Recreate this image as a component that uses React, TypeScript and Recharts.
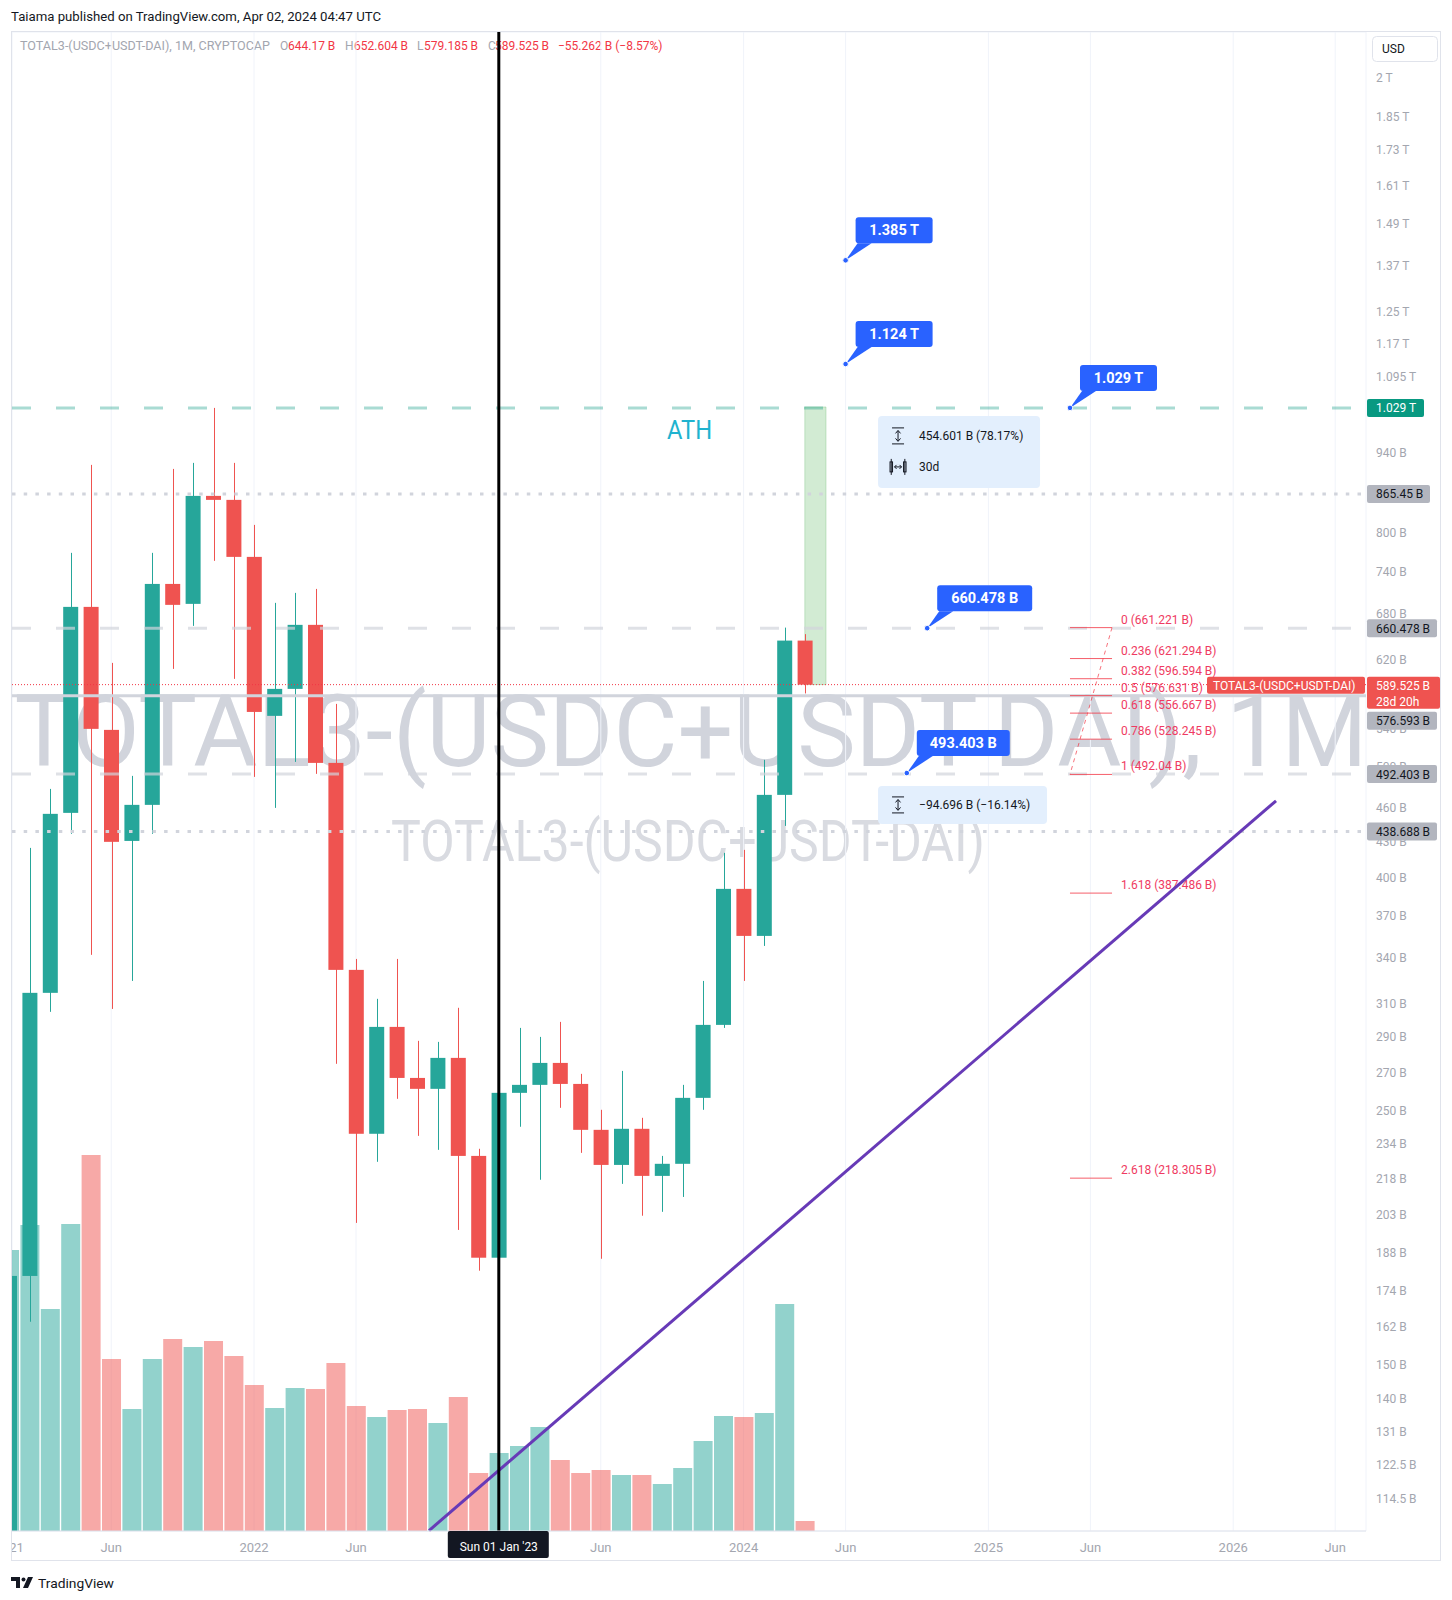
import React from "react";
import {
  ComposedChart,
  Bar,
  Cell,
  XAxis,
  YAxis,
  CartesianGrid,
  ReferenceLine,
  ReferenceArea,
  ReferenceDot,
} from "recharts";

const FONT = "Roboto, 'Noto Sans', sans-serif";
const UP = "#26a69a";
const DOWN = "#ef5350";

// monthly candles, TOTAL3-(USDC+USDT-DAI), values in billions USD
const months = [
  "Jan 2021", "Feb 2021", "Mar 2021", "Apr 2021", "May 2021", "Jun 2021",
  "Jul 2021", "Aug 2021", "Sep 2021", "Oct 2021", "Nov 2021", "Dec 2021",
  "Jan 2022", "Feb 2022", "Mar 2022", "Apr 2022", "May 2022", "Jun 2022",
  "Jul 2022", "Aug 2022", "Sep 2022", "Oct 2022", "Nov 2022", "Dec 2022",
  "Jan 2023", "Feb 2023", "Mar 2023", "Apr 2023", "May 2023", "Jun 2023",
  "Jul 2023", "Aug 2023", "Sep 2023", "Oct 2023", "Nov 2023", "Dec 2023",
  "Jan 2024", "Feb 2024", "Mar 2024", "Apr 2024",
];
const opens = [
  98, 179.3, 317.0, 455.4, 689.4, 538.2, 430.4, 462.8, 722.0, 693.6, 862.0, 855.1,
  762.4, 553.6, 584.5, 664.9, 503.6, 332.0, 238.7, 296.0, 267.1, 261.3, 278.1, 228.3,
  186.0, 259.2, 263.4, 275.3, 263.9, 240.6, 224.2, 241.1, 219.3, 224.7, 256.6, 297.2,
  390.8, 355.5, 472.2, 644.17,
];
const highs = [
  181, 424.4, 477.9, 768.6, 917.5, 615.9, 490.6, 768.6, 910.1, 921.2, 1029, 921.2,
  813.1, 695.0, 709.1, 714.8, 567.1, 339.4, 313.2, 339.4, 287.8, 287.2, 307.6, 231.6,
  269.8, 295.4, 290.1, 299.0, 269.3, 250.5, 270.9, 246.5, 228.3, 263.4, 324.7, 420.2,
  422.7, 506.7, 661.221, 652.604,
];
const lows = [
  95, 163.5, 305.1, 436.6, 342.2, 306.9, 324.7, 436.6, 608.5, 663.5, 756.3, 596.4,
  489.6, 460.0, 504.6, 492.6, 274.8, 199.5, 225.6, 256.1, 237.7, 231.1, 196.7, 181.2,
  182.3, 242.1, 217.6, 251.5, 229.7, 185.6, 215.8, 202.4, 204.0, 210.2, 250.5, 295.4,
  324.7, 348.4, 443.6, 579.185,
];
const closes = [
  179.3, 317.0, 454.5, 689.4, 539.3, 429.6, 462.8, 722.0, 692.2, 862.0, 855.1, 762.4,
  558.0, 584.5, 664.9, 503.6, 332.0, 238.7, 296.0, 267.1, 261.3, 278.1, 228.3, 186.0,
  259.2, 263.4, 275.3, 263.9, 240.6, 224.2, 241.1, 219.3, 224.7, 256.6, 297.2, 390.8,
  355.5, 472.2, 644.17, 589.525,
];
// relative monthly volume (volume pane has no scale)
const volumes = [
  281, 306, 222, 307, 376, 172, 122, 172, 192, 184, 190, 175,
  146, 123, 143, 142, 168, 125, 114, 121, 122, 108, 134, 58,
  78, 85, 104, 71, 58, 61, 56, 56, 47, 63, 90, 115,
  114, 118, 227, 10,
];

const priceTicks = [
  2150, 2000, 1850, 1730, 1610, 1490, 1370, 1250, 1170, 1095, 1020, 940, 870, 800, 740,
  680, 620, 580, 540, 500, 460, 430, 400, 370, 340, 310, 290, 270, 250, 234, 218, 203,
  188, 174, 162, 150, 140, 131, 122.5, 114.5,
];
const xTicks = [0, 5, 12, 17, 24, 29, 36, 41, 48, 53, 60, 65];
const xTickLabels = ["2021", "Jun", "2022", "Jun", "Sun 01 Jan '23", "Jun", "2024", "Jun", "2025", "Jun", "2026", "Jun"];

const fibLevels = [
  { label: "0 (661.221 B)", v: 661.221 },
  { label: "0.236 (621.294 B)", v: 621.294 },
  { label: "0.382 (596.594 B)", v: 596.594 },
  { label: "0.5 (576.631 B)", v: 576.631 },
  { label: "0.618 (556.667 B)", v: 556.667 },
  { label: "0.786 (528.245 B)", v: 528.245 },
  { label: "1 (492.04 B)", v: 492.04 },
  { label: "1.618 (387.486 B)", v: 387.486 },
  { label: "2.618 (218.305 B)", v: 218.305 },
];

const notes = [
  { x: 41, v: 1385, text: "1.385 T", w: 77 },
  { x: 41, v: 1124, text: "1.124 T", w: 77 },
  { x: 52, v: 1029, text: "1.029 T", w: 77 },
  { x: 45, v: 660.478, text: "660.478 B", w: 95 },
  { x: 44, v: 493.403, text: "493.403 B", w: 93 },
];

const X0 = 0.137;
const X1 = 66.51;
const Y0 = 107.3;
const Y1 = 2193;

const fmtPrice = (v: number) =>
  v >= 1000 ? `${+(v / 1000).toFixed(3)} T` : `${v} B`;

function Candle(props: any) {
  const { x, y, width, height, payload } = props;
  if (!payload) return null;
  const top = Math.min(y, y + height);
  const bot = Math.max(y, y + height);
  const lh = Math.log(payload.h);
  const ll = Math.log(payload.l);
  const py = (v: number) => top + ((bot - top) * (lh - Math.log(v))) / (lh - ll);
  const col = payload.c >= payload.o ? UP : DOWN;
  const yo = py(payload.o);
  const yc = py(payload.c);
  const bt = Math.min(yo, yc);
  const bh = Math.max(1, Math.abs(yo - yc));
  const cx = Math.round(x + width / 2) + 0.5;
  return (
    <g>
      <line x1={cx} x2={cx} y1={top} y2={bot} stroke={col} strokeWidth={1} />
      <rect x={x} y={bt} width={width} height={bh} fill={col} />
    </g>
  );
}

function TimeTick(props: any) {
  const { x, y, payload } = props;
  const k = xTicks.indexOf(payload.value);
  const txt = xTickLabels[k];
  if (payload.value === 24) {
    return (
      <g>
        <rect x={x - 51} y={y} width={101} height={27} rx={2} fill="#131722" />
        <text x={x} y={y + 20} textAnchor="middle" fill="#ffffff" fontSize={12} fontFamily={FONT}>
          {txt}
        </text>
      </g>
    );
  }
  return (
    <text x={x} y={y + 21} textAnchor="middle" fill="#a3a6af" fontSize={13} fontFamily={FONT}>
      {txt}
    </text>
  );
}

// price scale label, drawn through a reference line so the tags can sit on top
function PriceTickLabel(props: any) {
  const { viewBox, text } = props;
  if (!viewBox) return null;
  return (
    <text x={viewBox.x + viewBox.width + 10} y={viewBox.y + 4.3} fill="#a3a6af" fontSize={12} fontFamily={FONT}>
      {text}
    </text>
  );
}

function AxisTag(props: any) {
  const { viewBox, text, sub, bg, fg, w, shift = 0 } = props;
  if (!viewBox) return null;
  const x = viewBox.x + viewBox.width + 1;
  const y = viewBox.y + shift;
  if (sub) {
    return (
      <g>
        <rect x={x} y={y - 8} width={w} height={32} rx={2} fill={bg} />
        <text x={x + 9} y={y + 5} fill={fg} fontSize={12} fontFamily={FONT}>{text}</text>
        <text x={x + 9} y={y + 21} fill={fg} fontSize={12} fontFamily={FONT}>{sub}</text>
      </g>
    );
  }
  return (
    <g>
      <rect x={x} y={y - 9} width={w} height={18} rx={2} fill={bg} />
      <text x={x + 9} y={y + 4.5} fill={fg} fontSize={12} fontFamily={FONT}>{text}</text>
    </g>
  );
}

function PriceTag(props: any) {
  const { viewBox } = props;
  if (!viewBox) return null;
  const right = viewBox.x + viewBox.width;
  const y = viewBox.y;
  return (
    <g>
      <rect x={right - 159} y={y - 8} width={158} height={17} rx={2} fill={DOWN} />
      <text x={right - 153} y={y + 5} fill="#fff" fontSize={12} fontFamily={FONT}>
        TOTAL3-(USDC+USDT-DAI)
      </text>
      <AxisTag viewBox={viewBox} text="589.525 B" sub="28d 20h" bg={DOWN} fg="#fff" w={73} />
    </g>
  );
}

function FibLabel(props: any) {
  const { viewBox, text } = props;
  if (!viewBox) return null;
  return (
    <text x={viewBox.x + viewBox.width + 9} y={viewBox.y - 4} fill="#ef3b62" fontSize={12} fontFamily={FONT}>
      {text}
    </text>
  );
}

function Callout(props: any) {
  const { cx, cy, text, w } = props;
  if (cx == null) return null;
  const bx = cx + 10;
  const by = cy - 43;
  return (
    <g>
      <path d={`M${cx},${cy} L${bx + 2},${by + 26} L${bx + 16},${by + 26} Z`} fill="#2962ff" />
      <rect x={bx} y={by} width={w} height={26} rx={3} fill="#2962ff" />
      <text x={bx + w / 2} y={by + 18} textAnchor="middle" fill="#fff" fontSize={14.5} fontWeight={700} fontFamily={FONT}>
        {text}
      </text>
      <circle cx={cx} cy={cy} r={2.8} fill="#2962ff" stroke="#fff" strokeWidth={1} />
    </g>
  );
}

function VIcon({ x, y }: { x: number; y: number }) {
  return (
    <g stroke="#131722" strokeWidth={1} fill="none">
      <line x1={x - 6} x2={x + 6} y1={y - 8} y2={y - 8} />
      <line x1={x - 6} x2={x + 6} y1={y + 8} y2={y + 8} />
      <line x1={x} x2={x} y1={y - 5} y2={y + 5} />
      <path d={`M${x - 2.5},${y - 2.5} L${x},${y - 5.5} L${x + 2.5},${y - 2.5}`} />
      <path d={`M${x - 2.5},${y + 2.5} L${x},${y + 5.5} L${x + 2.5},${y + 2.5}`} />
    </g>
  );
}

function HIcon({ x, y }: { x: number; y: number }) {
  return (
    <g stroke="#131722" strokeWidth={1} fill="none">
      <rect x={x - 8} y={y - 5} width={2.5} height={10} />
      <rect x={x + 5.5} y={y - 5} width={2.5} height={10} />
      <line x1={x - 8 + 1.2} x2={x - 8 + 1.2} y1={y - 8} y2={y + 8} />
      <line x1={x + 6.8} x2={x + 6.8} y1={y - 8} y2={y + 8} />
      <line x1={x - 3.5} x2={x + 3.5} y1={y} y2={y} />
      <path d={`M${x - 1.5},${y - 2} L${x - 3.5},${y} L${x - 1.5},${y + 2}`} />
      <path d={`M${x + 1.5},${y - 2} L${x + 3.5},${y} L${x + 1.5},${y + 2}`} />
    </g>
  );
}

function MeasureBox(props: any) {
  const { cx, cy, w, rows } = props;
  if (cx == null) return null;
  const h = rows.length === 2 ? 72 : 38;
  return (
    <g>
      <rect x={cx} y={cy} width={w} height={h} rx={4} fill="#e3effd" />
      {rows.map((r: any, k: number) => {
        const yy = cy + (rows.length === 2 ? 20 + 31 * k : 19);
        return (
          <g key={k}>
            {r.icon === "v" ? <VIcon x={cx + 20} y={yy} /> : <HIcon x={cx + 20} y={yy} />}
            <text x={cx + 41} y={yy + 4.5} fill="#131722" fontSize={12} fontFamily={FONT}>
              {r.text}
            </text>
          </g>
        );
      })}
    </g>
  );
}

// horizontal level drawn left to right so the dash pattern starts at the pane edge
const hSeg = (v: number) => [{ x: X0, y: v }, { x: X1, y: v }];

export default function App() {
  const data = months.map((m, i) => ({
    i,
    m,
    o: opens[i],
    h: highs[i],
    l: lows[i],
    c: closes[i],
    range: [lows[i], highs[i]],
    vol: volumes[i],
  }));

  const red = "#f23645";
  const gray = "#a3a6af";

  return (
    <div style={{ position: "relative", width: 1452, height: 1600, background: "#fff", overflow: "hidden" }}>
      <style>{`body{margin:0}`}</style>

      {/* watermark and legend sit under the chart */}
      <svg style={{ position: "absolute", left: 0, top: 0 }} width={1452} height={1600}>
        <text x={691} y={766} textAnchor="middle" fontSize={101} fill="#d1d4dc" fontFamily={FONT}
          textLength={1353} lengthAdjust="spacingAndGlyphs">
          TOTAL3-(USDC+USDT-DAI), 1M
        </text>
        <text x={688} y={861} textAnchor="middle" fontSize={58} fill="#d9dbe1" fontFamily={FONT}
          textLength={594} lengthAdjust="spacingAndGlyphs">
          TOTAL3-(USDC+USDT-DAI)
        </text>
        <g fontFamily={FONT} fontSize={12}>
          <text x={20} y={50} fill={gray} textLength={250} lengthAdjust="spacingAndGlyphs">
            TOTAL3-(USDC+USDT-DAI), 1M, CRYPTOCAP
          </text>
          <text x={280} y={50} fill={gray}>O</text>
          <text x={288} y={50} fill={red}>644.17 B</text>
          <text x={345} y={50} fill={gray}>H</text>
          <text x={354} y={50} fill={red}>652.604 B</text>
          <text x={417} y={50} fill={gray}>L</text>
          <text x={424} y={50} fill={red}>579.185 B</text>
          <text x={488} y={50} fill={gray}>C</text>
          <text x={495} y={50} fill={red}>589.525 B</text>
          <text x={558} y={50} fill={red}>−55.262 B (−8.57%)</text>
        </g>
      </svg>

      <div style={{ position: "absolute", left: 0, top: 0 }}>
        <ComposedChart width={1452} height={1600} data={data} margin={{ top: 32, right: 12, bottom: 39, left: 12 }}>
          <CartesianGrid xAxisId="px" yAxisId="price" stroke="#f0f3fa" strokeWidth={1} />
          <XAxis xAxisId="px" dataKey="i" type="number" domain={[X0, X1]} allowDataOverflow
            ticks={xTicks} interval={0} height={30} tickSize={0} tickMargin={0}
            tick={<TimeTick />} tickLine={false} axisLine={{ stroke: "#e0e3eb" }} />
          <XAxis xAxisId="vx" dataKey="i" type="number" domain={[X0, X1]} allowDataOverflow hide />
          <YAxis yAxisId="price" orientation="right" scale="log" domain={[Y0, Y1]} allowDataOverflow
            ticks={priceTicks} interval={0} width={74} tickSize={0} tickMargin={10}
            axisLine={false} tickLine={false} tick={false} />
          <YAxis yAxisId="vol" domain={[0, 1499]} hide />

          <Bar xAxisId="vx" yAxisId="vol" dataKey="vol" barSize={19} isAnimationActive={false}>
            {data.map((d) => (
              <Cell key={d.i} fill={d.c >= d.o ? "rgba(38,166,154,0.5)" : "rgba(239,83,80,0.5)"} />
            ))}
          </Bar>

          <ReferenceArea xAxisId="px" yAxisId="price" x1={39} x2={40.04} y1={589.525} y2={1031}
            fill="#4caf50" fillOpacity={0.25} stroke="#4caf50" strokeOpacity={0.25} />

          <Bar xAxisId="px" yAxisId="price" dataKey="range" barSize={15} shape={Candle} isAnimationActive={false} />

          {/* price scale labels */}
          {priceTicks.map((t) => (
            <ReferenceLine key={`t${t}`} xAxisId="px" yAxisId="price" y={t} stroke="none"
              label={<PriceTickLabel text={fmtPrice(t)} />} />
          ))}

          {/* horizontal levels */}
          <ReferenceLine xAxisId="px" yAxisId="price" segment={hSeg(1029)} stroke="#089981" strokeOpacity={0.35}
            strokeWidth={3} strokeDasharray="19 25"
            label={<AxisTag text="1.029 T" bg="#089981" fg="#fff" w={57} />} />
          <ReferenceLine xAxisId="px" yAxisId="price" segment={hSeg(865.45)} stroke="#d1d4dc" strokeWidth={3}
            strokeDasharray="3.5 8.2"
            label={<AxisTag text="865.45 B" bg="#b2b5be" fg="#131722" w={63} />} />
          <ReferenceLine xAxisId="px" yAxisId="price" segment={hSeg(660.478)} stroke="#d1d4dc" strokeOpacity={0.7}
            strokeWidth={3} strokeDasharray="19 25"
            label={<AxisTag text="660.478 B" bg="#b2b5be" fg="#131722" w={70} />} />
          <ReferenceLine xAxisId="px" yAxisId="price" segment={hSeg(576.593)} stroke="#d1d4dc" strokeWidth={3}
            label={<AxisTag text="576.593 B" bg="#b2b5be" fg="#131722" w={70} shift={25} />} />
          <ReferenceLine xAxisId="px" yAxisId="price" segment={hSeg(492.403)} stroke="#d1d4dc" strokeOpacity={0.7}
            strokeWidth={3} strokeDasharray="19 25"
            label={<AxisTag text="492.403 B" bg="#b2b5be" fg="#131722" w={70} />} />
          <ReferenceLine xAxisId="px" yAxisId="price" segment={hSeg(438.688)} stroke="#d1d4dc" strokeWidth={3}
            strokeDasharray="3.5 8.2"
            label={<AxisTag text="438.688 B" bg="#b2b5be" fg="#131722" w={70} />} />
          <ReferenceLine xAxisId="px" yAxisId="price" segment={hSeg(589.525)} stroke={red} strokeWidth={1}
            strokeDasharray="1 2" label={<PriceTag />} />

          {/* fibonacci retracement */}
          {fibLevels.map((f) => (
            <ReferenceLine key={f.label} xAxisId="px" yAxisId="price"
              segment={[{ x: 52.0, y: f.v }, { x: 54.06, y: f.v }]}
              stroke={red} strokeOpacity={0.8} strokeWidth={1}
              label={<FibLabel text={f.label} />} />
          ))}
          <ReferenceLine xAxisId="px" yAxisId="price"
            segment={[{ x: 54.06, y: 661.221 }, { x: 52.0, y: 492.04 }]}
            stroke={red} strokeOpacity={0.7} strokeWidth={1} strokeDasharray="4 4" />

          {/* trend line and date marker */}
          <ReferenceLine xAxisId="px" yAxisId="price"
            segment={[{ x: 20.58, y: 107.4 }, { x: 62.1, y: 466.6 }]}
            stroke="#673ab7" strokeWidth={3} />
          <ReferenceLine xAxisId="px" yAxisId="price" x={24} stroke="#000000" strokeWidth={3} />

          <ReferenceDot xAxisId="px" yAxisId="price" x={32.25} y={966.8}
            shape={(p: any) => (
              <text x={p.cx} y={p.cy} fill="#1fb3cf" fontSize={26} fontFamily={FONT}
                textLength={45} lengthAdjust="spacingAndGlyphs">ATH</text>
            )} />

          <ReferenceDot xAxisId="px" yAxisId="price" x={42.59} y={1012.6}
            shape={(p: any) => (
              <MeasureBox {...p} w={162}
                rows={[{ icon: "v", text: "454.601 B (78.17%)" }, { icon: "h", text: "30d" }]} />
            )} />
          <ReferenceDot xAxisId="px" yAxisId="price" x={42.59} y={480.8}
            shape={(p: any) => (
              <MeasureBox {...p} w={169} rows={[{ icon: "v", text: "−94.696 B (−16.14%)" }]} />
            )} />

          {notes.map((n) => (
            <ReferenceDot key={n.text} xAxisId="px" yAxisId="price" x={n.x} y={n.v}
              shape={(p: any) => <Callout {...p} text={n.text} w={n.w} />} />
          ))}
        </ComposedChart>
      </div>

      {/* frame, header and footer */}
      <svg style={{ position: "absolute", left: 0, top: 0, pointerEvents: "none" }} width={1452} height={1600}>
        <rect x={0} y={25} width={11} height={1545} fill="#ffffff" />
        <rect x={11.5} y={31.5} width={1429} height={1529} fill="none" stroke="#e0e3eb" />
        <text x={11} y={21} fill="#131722" fontSize={12.5} fontFamily={FONT}
          textLength={370} lengthAdjust="spacingAndGlyphs">
          Taiama published on TradingView.com, Apr 02, 2024 04:47 UTC
        </text>
        <rect x={1372.5} y={36.5} width={65} height={25} rx={4} fill="#ffffff" stroke="#e0e3eb" />
        <text x={1382} y={53} fill="#131722" fontSize={12} fontFamily={FONT}>USD</text>
        <g fill="#131722">
          <path d="M11,1577 h9 v11 h-4 v-7 h-5 z" />
          <circle cx={23.5} cy={1579.5} r={2} />
          <path d="M28,1577 h5 l-5,11 h-5 z" />
        </g>
        <text x={38} y={1588} fill="#131722" fontSize={13.5} fontFamily={FONT}
          textLength={76} lengthAdjust="spacingAndGlyphs">TradingView</text>
      </svg>
    </div>
  );
}
